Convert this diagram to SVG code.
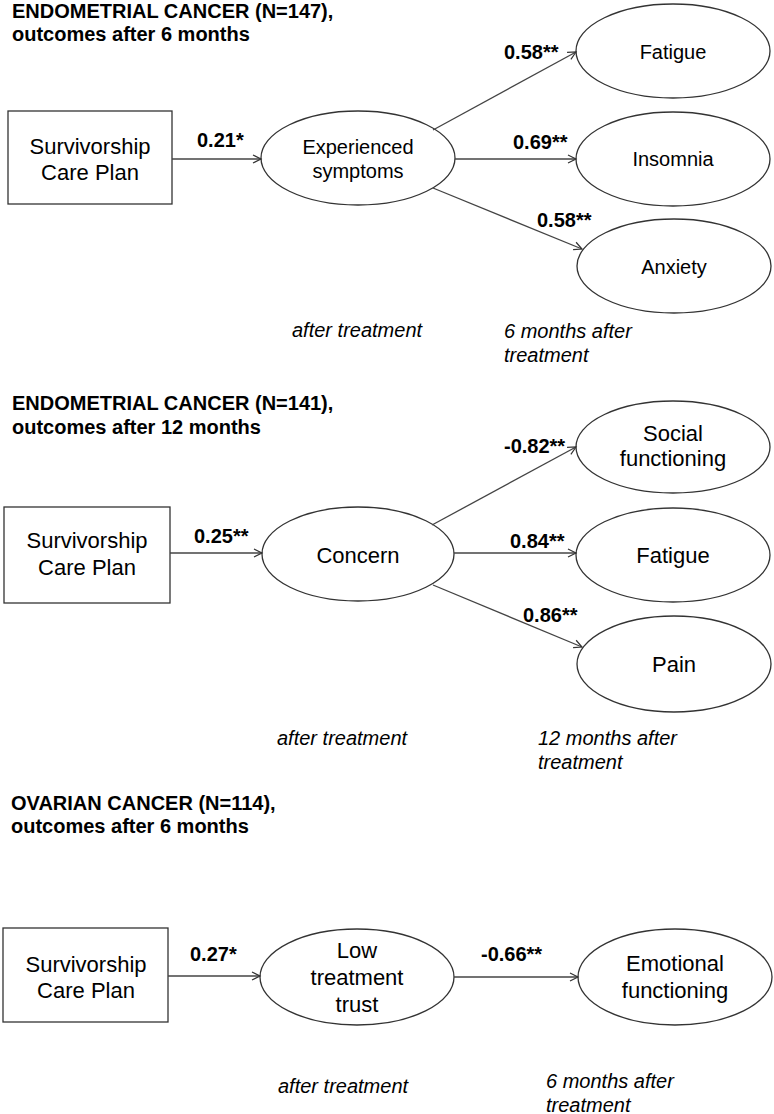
<svg xmlns="http://www.w3.org/2000/svg" width="774" height="1114" viewBox="0 0 774 1114">
<defs>
<marker id="arr" markerUnits="userSpaceOnUse" markerWidth="12" markerHeight="12" refX="9" refY="5" orient="auto">
<path d="M1,1 L9,5 L1,9" fill="none" stroke="#333" stroke-width="1.2"/>
</marker>
<style>
text{font-family:"Liberation Sans",Arial,sans-serif;fill:#000;}
.title{font-size:20px;font-weight:bold;}
.lbl{font-size:20px;font-weight:bold;}
.n20{font-size:20px;text-anchor:middle;}
.n22{font-size:22px;text-anchor:middle;}
.it{font-size:20px;font-style:italic;}
.shape{fill:#fff;stroke:#333;stroke-width:1.3;}
.edge{stroke:#444;stroke-width:1.3;fill:none;marker-end:url(#arr);}
</style>
</defs>
<rect width="774" height="1114" fill="#fff"/>

<!-- Section 1 -->
<g id="title1">
<text class="title" x="12" y="18">ENDOMETRIAL CANCER (N=147),</text>
<text class="title" x="12" y="41">outcomes after 6 months</text>
</g>
<g id="scp1">
<rect class="shape" x="8" y="111" width="164" height="93"/>
<text class="n22" x="90" y="154">Survivorship</text>
<text class="n22" x="90" y="180">Care Plan</text>
</g>
<g id="exp1">
<ellipse class="shape" cx="358" cy="158" rx="97" ry="47"/>
<text class="n20" x="358" y="154">Experienced</text>
<text class="n20" x="358" y="178">symptoms</text>
</g>
<g id="fatigue1">
<ellipse class="shape" cx="673" cy="51" rx="97" ry="47"/>
<text class="n20" x="673" y="59">Fatigue</text>
</g>
<g id="insomnia1">
<ellipse class="shape" cx="673" cy="159" rx="97" ry="47"/>
<text class="n20" x="673" y="166">Insomnia</text>
</g>
<g id="anxiety1">
<ellipse class="shape" cx="674" cy="266" rx="97" ry="47"/>
<text class="n20" x="674" y="274">Anxiety</text>
</g>
<g id="time1">
<text class="it" x="292" y="337">after treatment</text>
<text class="it" x="504" y="338">6 months after</text>
<text class="it" x="504" y="362">treatment</text>
</g>

<!-- Section 2 -->
<g id="title2">
<text class="title" x="12" y="410">ENDOMETRIAL CANCER (N=141),</text>
<text class="title" x="12" y="434">outcomes after 12 months</text>
</g>
<g id="scp2">
<rect class="shape" x="4" y="507" width="166" height="96"/>
<text class="n22" x="87" y="548">Survivorship</text>
<text class="n22" x="87" y="575">Care Plan</text>
</g>
<g id="concern2">
<ellipse class="shape" cx="358" cy="554" rx="96" ry="47"/>
<text class="n22" x="358" y="563">Concern</text>
</g>
<g id="social2">
<ellipse class="shape" cx="673" cy="447" rx="97" ry="46"/>
<text class="n22" x="673" y="441">Social</text>
<text class="n22" x="673" y="466">functioning</text>
</g>
<g id="fatigue2">
<ellipse class="shape" cx="673" cy="555" rx="97" ry="47"/>
<text class="n22" x="673" y="563">Fatigue</text>
</g>
<g id="pain2">
<ellipse class="shape" cx="674" cy="664" rx="97" ry="48"/>
<text class="n22" x="674" y="672">Pain</text>
</g>
<g id="time2">
<text class="it" x="277" y="745">after treatment</text>
<text class="it" x="538" y="745">12 months after</text>
<text class="it" x="538" y="769">treatment</text>
</g>

<!-- Section 3 -->
<g id="title3">
<text class="title" x="11" y="810">OVARIAN CANCER (N=114),</text>
<text class="title" x="11" y="833">outcomes after 6 months</text>
</g>
<g id="scp3">
<rect class="shape" x="3" y="928" width="165" height="94"/>
<text class="n22" x="86" y="972">Survivorship</text>
<text class="n22" x="86" y="998">Care Plan</text>
</g>
<g id="trust3">
<ellipse class="shape" cx="357" cy="977" rx="97" ry="48"/>
<text class="n22" x="357" y="958">Low</text>
<text class="n22" x="357" y="985">treatment</text>
<text class="n22" x="357" y="1012">trust</text>
</g>
<g id="emo3">
<ellipse class="shape" cx="675" cy="977" rx="97" ry="48"/>
<text class="n22" x="675" y="971">Emotional</text>
<text class="n22" x="675" y="998">functioning</text>
</g>
<g id="time3">
<text class="it" x="278" y="1093">after treatment</text>
<text class="it" x="546" y="1088">6 months after</text>
<text class="it" x="546" y="1112">treatment</text>
</g>

<!-- Connectors -->
<g id="connectors">
<line class="edge" x1="172" y1="159" x2="261" y2="159"/>
<line class="edge" x1="433" y1="130" x2="576" y2="52"/>
<line class="edge" x1="455" y1="159" x2="576" y2="159"/>
<line class="edge" x1="433" y1="188" x2="582" y2="249"/>
<line class="edge" x1="170" y1="553" x2="262" y2="553"/>
<line class="edge" x1="432" y1="525" x2="576" y2="447"/>
<line class="edge" x1="454" y1="553" x2="576" y2="553"/>
<line class="edge" x1="433" y1="585" x2="582" y2="647"/>
<line class="edge" x1="168" y1="976" x2="260" y2="976"/>
<line class="edge" x1="454" y1="977" x2="578" y2="977"/>
</g>

<!-- Labels -->
<g id="labels">
<text class="lbl" x="197" y="147">0.21*</text>
<text class="lbl" x="504" y="59">0.58**</text>
<text class="lbl" x="513" y="149">0.69**</text>
<text class="lbl" x="537" y="227">0.58**</text>
<text class="lbl" x="194" y="543">0.25**</text>
<text class="lbl" x="504" y="453">-0.82**</text>
<text class="lbl" x="510" y="548">0.84**</text>
<text class="lbl" x="523" y="622">0.86**</text>
<text class="lbl" x="190" y="961">0.27*</text>
<text class="lbl" x="481" y="961">-0.66**</text>
</g>
</svg>
